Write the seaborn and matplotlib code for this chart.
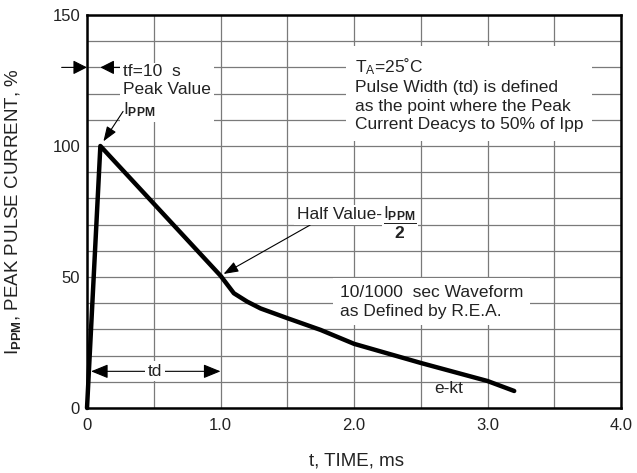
import numpy as np
import pandas as pd
import matplotlib
matplotlib.use("Agg")
import matplotlib.pyplot as plt
import seaborn as sns

# 10/1000 waveform: time in ms, current in % of Ippm
time_ms = [0, 0.1, 0.5, 1.0, 1.1, 1.2, 1.3, 1.5, 1.75, 2.0, 2.5, 3.0, 3.2]
current_pct = [0, 100, 78, 50.5, 43.8, 40.6, 38, 34.3, 29.8, 24.5, 17.2, 10.3, 6.5]

x_ticks = [0, 1, 2, 3, 4]
x_labels = ["0", "1.0", "2.0", "3.0", "4.0"]
y_ticks = [0, 50, 100, 150]

sns.set_style("white")
plt.rcParams["font.family"] = ["Liberation Sans", "DejaVu Sans"]
plt.rcParams["mathtext.fontset"] = "custom"
plt.rcParams["mathtext.rm"] = "Liberation Sans"
plt.rcParams["mathtext.it"] = "Liberation Sans:italic"
plt.rcParams["mathtext.bf"] = "Liberation Sans:bold"

df = pd.DataFrame({"t": time_ms, "i": current_pct})

fig = plt.figure(figsize=(6.37, 4.73), dpi=100)
ax = fig.add_axes([0.1366, 0.1374, 0.8383, 0.8309])

sns.lineplot(data=df, x="t", y="i", ax=ax, color="black", linewidth=3.2,
             sort=False, clip_on=False, zorder=5)

ax.set_xlim(0, 4)
ax.set_ylim(0, 150)
ax.set_xticks(x_ticks)
ax.set_xticklabels(x_labels)
ax.set_yticks(y_ticks)
ax.set_xticks(np.arange(0, 4.01, 0.5), minor=True)
ax.set_yticks(np.arange(0, 151, 10), minor=True)
ax.grid(which="both", color="#7a7a7a", linewidth=0.9)
ax.tick_params(which="both", length=0, labelsize=12, colors="#222222")
ax.tick_params(axis="x", pad=7)
ax.tick_params(axis="y", pad=5)
for s in ax.spines.values():
    s.set_linewidth(1.8)
    s.set_color("black")

ax.set_xlabel("t, TIME, ms", fontsize=13.5, color="#222222")
ax.xaxis.set_label_coords(0.504, -0.112)
ax.set_ylabel(r"I$_\mathbf{PPM}$, PEAK PULSE CURRENT, %", fontsize=13.5, color="#222222")
ax.yaxis.set_label_coords(-0.12, 0.5)

white = dict(boxstyle="square,pad=0.15", fc="white", ec="none")
fs = 12.5
ls = 1.27

# tf arrows (rise time)
tf_head = "-|>,head_length=0.85,head_width=0.43"
ax.annotate("", xy=(0, 130), xytext=(-0.19, 130), annotation_clip=False,
            arrowprops=dict(arrowstyle=tf_head, mutation_scale=10, lw=0.8,
                            color="black", shrinkA=0, shrinkB=0))
ax.annotate("", xy=(time_ms[1], 130), xytext=(0.25, 130),
            arrowprops=dict(arrowstyle=tf_head, mutation_scale=10, lw=0.8,
                            color="black", shrinkA=0, shrinkB=0))

ax.text(0.27, 120.8, "tf=10  s\nPeak Value\nI$_\\mathbf{PPM}$", ha="left", va="center",
        fontsize=fs, linespacing=ls, color="#222222", bbox=white, zorder=3)
ax.annotate("", xy=(time_ms[1], current_pct[1]), xytext=(0.27, 113.2), zorder=4,
            arrowprops=dict(arrowstyle="-|>,head_length=0.9,head_width=0.33",
                            mutation_scale=10, lw=0.8, color="black",
                            shrinkA=0, shrinkB=4))

ax.text(2.007, 119.8,
        "T$_\\mathregular{A}$=25˚C\nPulse Width (td) is defined\n"
        "as the point where the Peak\nCurrent Deacys to 50% of Ipp",
        ha="left", va="center", fontsize=fs, linespacing=ls, color="#222222",
        bbox=dict(boxstyle="square,pad=0.5", fc="white", ec="none"))

# half value marker
half = ax.annotate("Half Value-", xy=(time_ms[3], current_pct[3]), xytext=(1.573, 72),
                   ha="left", va="baseline", fontsize=fs, color="#222222", bbox=white,
                   arrowprops=dict(arrowstyle="-|>,head_length=0.9,head_width=0.33",
                                   mutation_scale=10, lw=0.8, color="black",
                                   relpos=(0.21, 0), shrinkA=0, shrinkB=2.5))
ax.annotate(r"$\dfrac{\mathregular{I}_{\mathbf{PPM}}}{\mathbf{2}}$", xy=(1, 1),
            xycoords=half, xytext=(0.8, 2), textcoords="offset points",
            ha="left", va="top", fontsize=fs, color="#222222",
            bbox=dict(boxstyle="square,pad=0.05", fc="white", ec="none"))

ax.text(1.895, 40.5, "10/1000  sec Waveform\nas Defined by R.E.A.", ha="left",
        va="center", fontsize=fs, linespacing=ls, color="#222222",
        bbox=dict(boxstyle="square,pad=0.4", fc="white", ec="none"))

# td arrow
ax.annotate("", xy=(time_ms[3], 14), xytext=(0.03, 14),
            arrowprops=dict(arrowstyle="<|-|>,head_length=1.05,head_width=0.43",
                            mutation_scale=10, lw=0.8, color="black",
                            shrinkA=0, shrinkB=0))
ax.text(0.51, 14, "td", ha="center", va="center", fontsize=fs, color="#222222",
        bbox=white, zorder=4)

ax.text(2.71, 7.3, "e-kt", ha="center", va="center", fontsize=fs, color="#222222")

fig.savefig("out.png", dpi=100)
